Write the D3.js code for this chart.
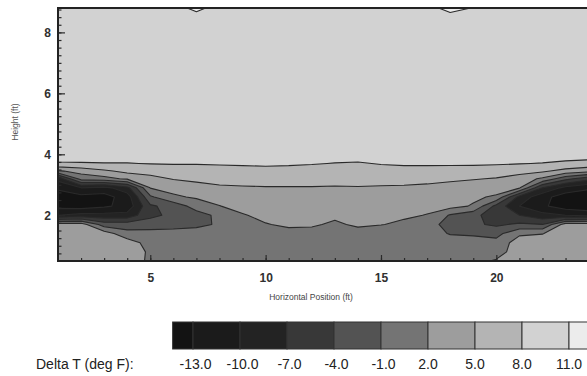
<!DOCTYPE html>
<html>
<head>
<meta charset="utf-8">
<script src="https://cdn.jsdelivr.net/npm/d3@7"></script>
<style>
  html, body { margin: 0; padding: 0; background: #fff; }
  svg { display: block; font-family: "Liberation Sans", Arial, Helvetica, sans-serif; }
</style>
</head>
<body>
<svg id="chart" width="587" height="376"></svg>
<script>
// Measurement stations across the room (ft)
const positions = [1, 2, 3, 4, 5, 6, 7, 8, 9, 10, 11, 12, 13, 14, 15, 16, 17, 18, 19, 20, 21, 22, 23, 24, 25];
// Sensor heights (ft), listed from the ceiling down
const heights = [8.8, 8.5, 6.0, 4.0, 3.7, 3.45, 3.2, 2.9, 2.6, 2.3, 2.0, 1.7, 1.4, 1.1, 0.8, 0.5];

// Delta T (deg F): one profile per station, values ordered like `heights`
const deltaT = [
  [9.5, 9.5, 9.5, 9.5, 7.7, 1.6, -9.0, -12.5, -14.5, -14.0, -10.0, 3.5, 3.5, 3.5, 3.5, 3.5],   // x = 1
  [9.5, 9.5, 9.5, 9.5, 7.8, 3.1, 0.3, -10.0, -14.0, -14.5, -9.0, 3.5, 3.5, 3.5, 3.5, 3.5],     // x = 2
  [9.5, 9.5, 9.5, 9.5, 7.9, 4.5, 1.0, -11.0, -14.2, -13.5, -9.0, -2.5, 3.5, 3.5, 3.5, 3.5],    // x = 3
  [9.5, 9.5, 9.5, 9.5, 7.9, 5.8, 2.5, -8.0, -11.5, -12.0, -9.0, -2.5, 0.0, 3.5, 3.5, 3.5],     // x = 4
  [9.5, 9.5, 9.5, 9.5, 8.1, 6.2, 4.0, 2.1, -1.5, -4.5, -4.5, -3.0, 0.5, 0.8, 1.6, 1.5],        // x = 5
  [9.5, 9.5, 9.5, 9.5, 8.2, 6.5, 5.2, 3.0, 1.5, -2.8, -3.5, -2.5, 0.5, 0.5, 0.5, 0.5],         // x = 6
  [12.0, 9.5, 9.5, 9.5, 8.2, 6.6, 5.6, 4.0, 2.4, 0.2, -2.2, -1.8, 0.5, 0.5, 0.5, 0.5],         // x = 7
  [9.5, 9.5, 9.5, 9.5, 8.3, 6.8, 5.9, 4.6, 3.2, 1.9, -0.3, -0.6, 0.3, 0.5, 0.5, 0.5],          // x = 8
  [9.5, 9.5, 9.5, 9.5, 8.4, 7.0, 6.2, 4.7, 3.8, 3.2, 1.7, 0.5, 0.5, 0.5, 0.5, 0.5],            // x = 9
  [9.5, 9.5, 9.5, 9.5, 8.5, 7.1, 6.3, 4.8, 4.0, 3.6, 3.0, 1.8, 0.6, 0.5, 0.5, 0.5],            // x = 10
  [9.5, 9.5, 9.5, 9.5, 8.4, 7.0, 6.3, 4.8, 4.0, 3.7, 3.3, 2.6, 0.9, 0.5, 0.5, 0.5],            // x = 11
  [9.5, 9.5, 9.5, 9.5, 8.2, 6.8, 6.3, 4.8, 4.0, 3.7, 3.2, 2.4, 1.0, 0.5, 0.5, 0.5],            // x = 12
  [9.5, 9.5, 9.5, 9.5, 7.9, 6.8, 6.2, 4.7, 3.8, 3.3, 2.6, 1.5, 0.5, 0.5, 0.5, 0.5],            // x = 13
  [9.5, 9.5, 9.5, 9.5, 7.7, 6.6, 6.1, 4.8, 3.9, 3.4, 3.0, 2.5, 0.8, 0.5, 0.5, 0.5],            // x = 14
  [9.5, 9.5, 9.5, 9.5, 8.2, 6.8, 6.0, 4.7, 3.9, 3.3, 2.8, 2.1, 0.6, 0.5, 0.5, 0.5],            // x = 15
  [9.5, 9.5, 9.5, 9.5, 8.4, 7.0, 6.0, 4.6, 3.6, 3.0, 2.4, 1.5, 0.5, 0.5, 0.5, 0.5],            // x = 16
  [9.5, 9.5, 9.5, 9.5, 8.4, 7.0, 5.8, 4.4, 3.2, 2.6, 1.9, 0.6, 0.3, 0.4, 0.5, 0.5],            // x = 17
  [12.5, 9.5, 9.5, 9.5, 8.4, 6.9, 5.5, 4.0, 3.3, 3.0, -1.3, -2.5, -1.2, 0.5, 0.5, 0.5],        // x = 18
  [10.8, 9.5, 9.5, 9.5, 8.4, 6.8, 5.2, 3.5, 2.6, 1.7, -3.0, -3.5, -1.5, 0.5, 0.8, 1.2],        // x = 19
  [9.5, 9.5, 9.5, 9.5, 8.3, 6.6, 4.8, 3.6, 1.5, -5.0, -6.0, -4.5, -2.0, 0.0, 0.8, 2.3],        // x = 20
  [9.5, 9.5, 9.5, 9.5, 8.1, 6.2, 3.5, 2.3, -8.0, -10.0, -7.0, -3.5, 1.5, 3.5, 3.5, 3.5],       // x = 21
  [9.5, 9.5, 9.5, 9.5, 7.9, 5.5, 1.5, -7.0, -12.0, -12.5, -9.0, -4.0, 1.9, 3.5, 3.5, 3.5],     // x = 22
  [9.5, 9.5, 9.5, 9.5, 7.4, 4.0, -3.0, -11.0, -14.5, -14.5, -10.0, 3.5, 3.5, 3.5, 3.5, 3.5],   // x = 23
  [9.5, 9.5, 9.5, 9.5, 7.0, 3.0, -6.0, -12.5, -15.0, -15.0, -11.0, 3.5, 3.5, 3.5, 3.5, 3.5],   // x = 24
  [9.5, 9.5, 9.5, 9.5, 6.8, 2.6, -7.0, -13.0, -15.0, -14.5, -10.5, 3.5, 3.5, 3.5, 3.5, 3.5]    // x = 25
];

// Contour levels and their legend labels
const levels = [-13, -10, -7, -4, -1, 2, 5, 8, 11];
const levelLabels = ["-13.0", "-10.0", "-7.0", "-4.0", "-1.0", "2.0", "5.0", "8.0", "11.0"];
// Grey ramp: below the first level up to above the last
const bandColors = ["#131313", "#1b1b1b", "#232323", "#383838", "#535353",
                    "#747474", "#9d9d9d", "#b4b4b4", "#d2d2d2", "#ececec"];

const xTicks = [5, 10, 15, 20];
const yTicks = [2, 4, 6, 8];
const yMinorTicks = d3.range(0.75, 8.8, 0.25);
const xMinorTicks = d3.range(2, 25, 1);

const svg = d3.select("#chart");

const plot = { left: 58, top: 8, bottom: 261 };
const x = d3.scaleLinear([1, 25], [plot.left, plot.left + 24 * 23.07]);
const y = d3.scaleLinear([0.5, 8.8], [plot.bottom, plot.top]);

// Regular grid for the contour generator (row-major, top row first)
const n = positions.length, m = heights.length;
const grid = new Array(n * m);
for (let j = 0; j < m; j++) {
  for (let i = 0; i < n; i++) grid[j * n + i] = deltaT[i][j];
}
const colToX = d3.scaleLinear(d3.range(n), positions);
const rowToH = d3.scaleLinear(d3.range(m), heights);

const gridProjection = d3.geoTransform({
  point(gx, gy) {
    const ci = Math.max(0, Math.min(n - 1, gx - 0.5));
    const rj = Math.max(0, Math.min(m - 1, gy - 0.5));
    this.stream.point(x(colToX(ci)), y(rowToH(rj)));
  }
});
const path = d3.geoPath(gridProjection);

const bands = d3.contours().size([n, m]).thresholds(levels)(grid);

svg.append("clipPath").attr("id", "plot-clip")
  .append("rect")
  .attr("x", x(1)).attr("y", y(8.8))
  .attr("width", x(25) - x(1)).attr("height", y(0.5) - y(8.8));

const field = svg.append("g").attr("clip-path", "url(#plot-clip)");

field.append("rect")
  .attr("x", x(1)).attr("y", y(8.8))
  .attr("width", x(25) - x(1)).attr("height", y(0.5) - y(8.8))
  .attr("fill", bandColors[0]);

field.selectAll("path.band")
  .data(bands)
  .join("path")
  .attr("class", "band")
  .attr("d", path)
  .attr("fill", (d, k) => bandColors[k + 1]);

field.selectAll("path.isoline")
  .data(bands)
  .join("path")
  .attr("class", "isoline")
  .attr("d", path)
  .attr("fill", "none")
  .attr("stroke", "#2a2a2a")
  .attr("stroke-width", 1.1)
  .attr("stroke-linejoin", "round");

// Axes with inward ticks
const yAxis = svg.append("g").attr("transform", `translate(${plot.left},0)`)
  .call(d3.axisLeft(y).tickValues(yTicks).tickSize(-7).tickPadding(7).tickFormat(d3.format("d")));
const yMinor = svg.append("g").attr("transform", `translate(${plot.left},0)`)
  .call(d3.axisLeft(y).tickValues(yMinorTicks).tickSize(-3.5).tickFormat(""));
const xAxis = svg.append("g").attr("transform", `translate(0,${plot.bottom})`)
  .call(d3.axisBottom(x).tickValues(xTicks).tickSize(-6).tickPadding(12).tickFormat(d3.format("d")));
const xMinor = svg.append("g").attr("transform", `translate(0,${plot.bottom})`)
  .call(d3.axisBottom(x).tickValues(xMinorTicks).tickSize(-3).tickFormat(""));

[yAxis, yMinor, xAxis, xMinor].forEach(g => {
  g.select(".domain").remove();
  g.selectAll(".tick line").attr("stroke", "#2a2a2a").attr("stroke-width", 1.2);
});
[yAxis, xAxis].forEach(g => {
  g.selectAll(".tick text")
    .attr("fill", "#303030")
    .attr("font-size", 12)
    .attr("font-weight", "bold");
});

// Frame
svg.append("rect")
  .attr("x", x(1)).attr("y", y(8.8))
  .attr("width", x(25) - x(1)).attr("height", y(0.5) - y(8.8))
  .attr("fill", "none")
  .attr("stroke", "#222")
  .attr("stroke-width", 2);

// Axis titles
svg.append("text")
  .attr("transform", "translate(18,122) rotate(-90)")
  .attr("text-anchor", "middle")
  .attr("font-size", 8.5)
  .attr("fill", "#555")
  .text("Height (ft)");

svg.append("text")
  .attr("x", 311).attr("y", 300)
  .attr("text-anchor", "middle")
  .attr("font-size", 8.5)
  .attr("fill", "#444")
  .text("Horizontal Position (ft)");

// Colour key
const keyEdges = [-14.3, ...levels, 14.3];
const key = d3.scaleLinear([-13, 11], [193, 569]);
const keyTop = 322, keyHeight = 27;

svg.append("g").selectAll("rect")
  .data(d3.pairs(keyEdges))
  .join("rect")
  .attr("x", d => key(d[0]))
  .attr("y", keyTop)
  .attr("width", d => key(d[1]) - key(d[0]))
  .attr("height", keyHeight)
  .attr("fill", (d, k) => bandColors[k])
  .attr("stroke", "#333")
  .attr("stroke-width", 1);

svg.append("g").selectAll("text")
  .data(levels)
  .join("text")
  .attr("x", (d) => key(d) + (d < 0 ? 2.5 : 0))
  .attr("y", 369)
  .attr("text-anchor", "middle")
  .attr("font-size", 14)
  .attr("fill", "#222")
  .text((d, k) => levelLabels[k]);

svg.append("text")
  .attr("x", 36).attr("y", 369)
  .attr("font-size", 14)
  .attr("fill", "#222")
  .text("Delta T (deg F):");
</script>
</body>
</html>
